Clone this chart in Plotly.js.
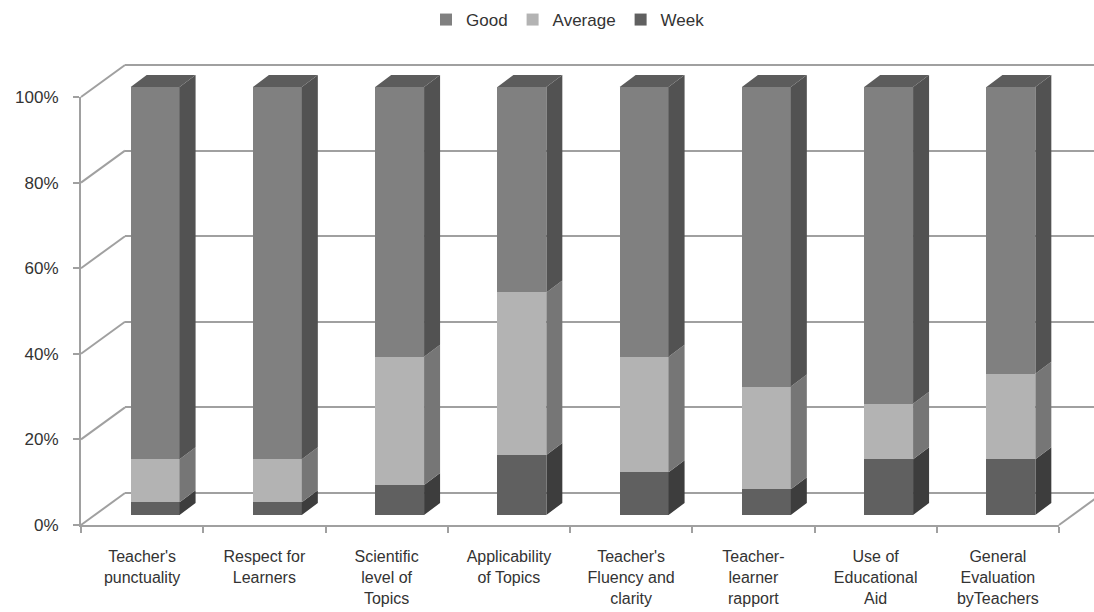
<!DOCTYPE html>
<html>
<head>
<meta charset="utf-8">
<script src="https://cdn.plot.ly/plotly-3.0.1.min.js"></script>
<style>html,body{margin:0;padding:0;background:#fff;}#chart{width:1094px;height:612px;}</style>
</head>
<body>
<div id="chart"></div>
<script>
// ---- data ----
const categories = ["Teacher's<br>punctuality", "Respect for<br>Learners", "Scientific<br>level of<br>Topics", "Applicability<br>of Topics", "Teacher's<br>Fluency and<br>clarity", "Teacher-<br>learner<br>rapport", "Use of<br>Educational<br>Aid", "General<br>Evaluation<br>byTeachers"];
const good    = [87, 87, 63, 48, 63, 70, 74, 67];
const average = [10, 10, 30, 38, 27, 24, 13, 20];
const week    = [3, 3, 7, 14, 10, 6, 13, 13];
const valueTicks = [0, 20, 40, 60, 80, 100];
const valueTickText = ["0%", "20%", "40%", "60%", "80%", "100%"];

// ---- geometry (pixels) ----
const W = 1094, H = 612;
const fx = p => p / W, fy = p => 1 - p / H;
const X0 = 81, X1 = 1059, Y0 = 525;
const PX = 4.28;                 // px per percent
const Y100 = Y0 - 100 * PX;
const catW = (X1 - X0) / categories.length;
const WALL = {dx: 44, dy: -32};
const BAR = {dx: 13, dy: -10};
const SIDE = {dx: 16, dy: -12};
const HW = 0.2;                  // half bar width in category units
const sdx = SIDE.dx / catW, sdy = -SIDE.dy / PX;

const colors = {
  Good:    {front: '#808080', side: '#525252', top: '#5c5c5c'},
  Average: {front: '#b3b3b3', side: '#767676'},
  Week:    {front: '#606060', side: '#3d3d3d'}
};
const idx = categories.map((c, i) => i);
const series = [
  {name: 'Week', vals: week},
  {name: 'Average', vals: average},
  {name: 'Good', vals: good}
];

const traces = [];
// empty traces so that the back-wall and front-axis subplots are created
traces.push({type: 'scatter', x: [], y: [], xaxis: 'x', yaxis: 'y', showlegend: false, hoverinfo: 'skip'});
traces.push({type: 'scatter', x: [], y: [], xaxis: 'x3', yaxis: 'y3', showlegend: false, hoverinfo: 'skip'});

const base = idx.map(() => 0);
series.forEach(s => {
  traces.push({
    type: 'bar', name: s.name, x: idx, y: s.vals, width: 2 * HW,
    xaxis: 'x2', yaxis: 'y2',
    marker: {color: colors[s.name].front, line: {width: 0}},
    hovertemplate: s.name + ': %{y}%<extra></extra>'
  });
  const sx = [], sy = [];
  idx.forEach(i => {
    const y0 = base[i], y1 = base[i] + s.vals[i];
    sx.push(i + HW, i + HW + sdx, i + HW + sdx, i + HW, i + HW, null);
    sy.push(y0, y0 + sdy, y1 + sdy, y1, y0, null);
    base[i] = y1;
  });
  traces.push({
    type: 'scatter', mode: 'lines', x: sx, y: sy, fill: 'toself',
    fillcolor: colors[s.name].side, line: {width: 0},
    xaxis: 'x2', yaxis: 'y2', showlegend: false, hoverinfo: 'skip'
  });
});
// top faces
const tx = [], ty = [];
idx.forEach(i => {
  const t = base[i];
  tx.push(i - HW, i + HW, i + HW + sdx, i - HW + sdx, i - HW, null);
  ty.push(t, t, t + sdy, t + sdy, t, null);
});
traces.push({
  type: 'scatter', mode: 'lines', x: tx, y: ty, fill: 'toself',
  fillcolor: colors.Good.top, line: {width: 0},
  xaxis: 'x2', yaxis: 'y2', showlegend: false, hoverinfo: 'skip'
});

// ---- frame shapes (derived from geometry constants) ----
const lineCol = '#a0a0a0';
const shapes = valueTicks.map(v => ({
  type: 'line', xref: 'paper', yref: 'paper', layer: 'below',
  x0: fx(X0), y0: fy(Y0 - v * PX),
  x1: fx(X0 + WALL.dx), y1: fy(Y0 + WALL.dy - v * PX),
  line: {color: lineCol, width: 2}
}));
shapes.push({
  type: 'line', xref: 'paper', yref: 'paper', layer: 'below',
  x0: fx(X1), y0: fy(Y0), x1: fx(X1 + WALL.dx), y1: fy(Y0 + WALL.dy),
  line: {color: lineCol, width: 2}
});

const font = {family: 'Liberation Sans, Arial, sans-serif', size: 17, color: '#333'};
const xfont = {family: 'Liberation Sans, Arial, sans-serif', size: 16, color: '#333'};
const bx0 = X0 + BAR.dx + catW / 2; // px of category 0 center for bars
const by0 = Y0 + BAR.dy;            // px of 0% for bars
const pad = 0.5 * PX;

const layout = {
  width: W, height: H, autosize: false,
  margin: {l: 0, r: 0, t: 0, b: 0, pad: 0},
  paper_bgcolor: '#fff', plot_bgcolor: 'rgba(0,0,0,0)',
  font: font, barmode: 'stack', bargap: 0,
  showlegend: true,
  legend: {orientation: 'h', x: fx(568), xanchor: 'center', y: fy(20), yanchor: 'middle',
           traceorder: 'reversed', font: font, bgcolor: 'rgba(0,0,0,0)', itemwidth: 30},
  // back wall
  xaxis: {domain: [fx(X0 + WALL.dx), 1], range: [0, 1], visible: false, fixedrange: true},
  yaxis: {domain: [fy(Y0 + WALL.dy + pad), fy(Y100 + WALL.dy - pad)], range: [-0.5, 100.5],
          showgrid: true, gridcolor: lineCol, gridwidth: 2, tickmode: 'array', tickvals: valueTicks,
          showticklabels: false, ticks: '', zeroline: false, showline: false, fixedrange: true},
  // bars
  xaxis2: {domain: [0, 1], anchor: 'y2', range: [-(bx0) / catW, (W - bx0) / catW],
           visible: false, fixedrange: true},
  yaxis2: {domain: [0, 1], anchor: 'x2', range: [-(H - by0) / PX, by0 / PX],
           visible: false, fixedrange: true},
  // front axes
  xaxis3: {domain: [fx(X0), fx(X1)], anchor: 'y3', range: [-0.5, categories.length - 0.5],
           tickmode: 'array', tickvals: idx, ticktext: categories, ticks: '',
           showline: true, linecolor: lineCol, linewidth: 2, showgrid: false, zeroline: false,
           ticklabelstandoff: 16, tickfont: xfont, fixedrange: true,
           minor: {tickmode: 'array', tickvals: idx.concat([categories.length]).map(i => i - 0.5),
                   ticks: 'outside', ticklen: 6, tickcolor: lineCol, tickwidth: 2, showgrid: false}},
  yaxis3: {domain: [fy(Y0), fy(Y100)], anchor: 'x3', range: [0, 100],
           tickmode: 'array', tickvals: valueTicks, ticktext: valueTickText,
           ticks: 'outside', ticklen: 6, tickcolor: lineCol, tickwidth: 2,
           showline: true, linecolor: lineCol, linewidth: 2, showgrid: false, zeroline: false,
           ticklabelstandoff: 11, tickfont: font, fixedrange: true},
  shapes: shapes
};

Plotly.newPlot('chart', traces, layout, {displayModeBar: false, staticPlot: true});
</script>
</body>
</html>
